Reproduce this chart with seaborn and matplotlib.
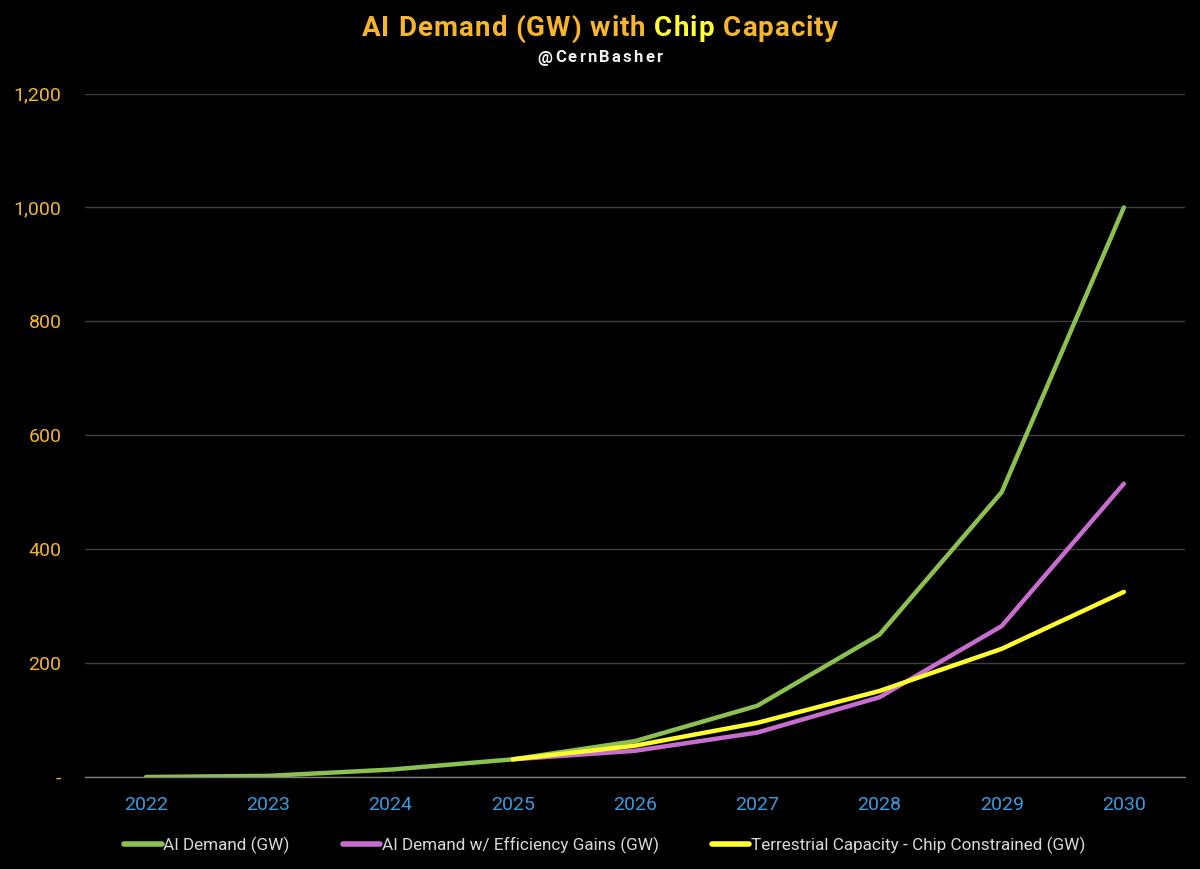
import numpy as np
import pandas as pd
import seaborn as sns
import matplotlib.pyplot as plt
from matplotlib.lines import Line2D
from matplotlib.ticker import FuncFormatter, FixedLocator

years = ["2022", "2023", "2024", "2025", "2026", "2027", "2028", "2029", "2030"]
ai_demand = [0, 2, 13, 31, 63, 125, 250, 500, 1000]
ai_eff = [np.nan, np.nan, np.nan, 31, 46, 78, 140, 265, 515]
terrestrial = [np.nan, np.nan, np.nan, 31, 55, 95, 151, 225, 325]
series_names = ["AI Demand (GW)", "AI Demand w/ Efficiency Gains (GW)",
                "Terrestrial Capacity - Chip Constrained (GW)"]
colors = ["#8CC152", "#C86DD0", "#FFFF2E"]

df = pd.DataFrame({"x": np.arange(len(years))})
for name, vals in zip(series_names, [ai_demand, ai_eff, terrestrial]):
    df[name] = vals

sns.set_theme(style="dark")
plt.rcParams['font.family'] = ['Roboto', 'DejaVu Sans']

fig = plt.figure(figsize=(12, 8.69), dpi=100, facecolor="black")
ax = fig.add_axes([85/1200, 1-777/869, 1100/1200, (777-93.5)/869])
ax.set_facecolor("black")

for name, c in zip(series_names, colors):
    sns.lineplot(data=df, x="x", y=name, ax=ax, color=c, linewidth=3.2,
                 solid_capstyle="round", solid_joinstyle="round", legend=False)

ax.set_xlim(-0.5, len(years) - 0.5)
ax.set_ylim(0, 1200)
ax.set_yticks(range(0, 1201, 200))
ax.yaxis.set_major_formatter(FuncFormatter(lambda v, p: "-" if v == 0 else f"{int(v):,}"))
ax.set_xticks(np.arange(len(years)))
ax.set_xticklabels(years)
ax.xaxis.set_minor_locator(FixedLocator(np.arange(-0.5, len(years), 1.0)))
ax.tick_params(axis="x", which="major", length=0, pad=14, labelsize=14, labelcolor="#3A9AE0")
ax.tick_params(axis="x", which="minor", length=10, direction="inout", color="#7f7f7f", width=1)
ax.tick_params(axis="y", length=0, pad=17, labelsize=14, labelcolor="#F2B431")
ax.set_xlabel("")
ax.set_ylabel("")
ax.grid(axis="y", color="#404040", linewidth=1)
ax.grid(axis="x", visible=False)
for s in ["top", "right", "left"]:
    ax.spines[s].set_visible(False)
ax.spines["bottom"].set_color("#7f7f7f")
ax.spines["bottom"].set_linewidth(1)

fig.canvas.draw()
r = fig.canvas.get_renderer()


def tracked_text(parts, y_px, size, tracking_px):
    """Draw centred text char-by-char with letter spacing; parts = [(str, color)]."""
    chars = [(ch, c) for s, c in parts for ch in s]
    objs = []
    widths = []
    for ch, c in chars:
        t = fig.text(0, 1 - y_px/869, ch, color=c, fontsize=size, fontweight="bold",
                     ha="left", va="center")
        if ch == " ":
            t.set_text("\u00a0")
            w = fig.text(0, 0, "a a", fontsize=size, fontweight="bold").get_window_extent(renderer=r).width \
                - fig.text(0, 0, "aa", fontsize=size, fontweight="bold").get_window_extent(renderer=r).width
            fig.texts[-1].remove(); fig.texts[-1].remove()
        else:
            w = t.get_window_extent(renderer=r).width
        objs.append(t)
        widths.append(w)
    total = sum(widths) + tracking_px * (len(chars) - 1)
    x = 600 - total / 2
    for t, w in zip(objs, widths):
        t.set_x(x / 1200)
        x += w + tracking_px


tracked_text([("AI Demand (GW) with ", "#F7B52C"), ("Chip", "#FFFF33"), (" Capacity", "#F7B52C")],
             29, 20, 1.0)
tracked_text([("@CernBasher", "#F0F0F0")], 58, 12, 2.2)

handles = [Line2D([], [], color=c, linewidth=4, solid_capstyle="round") for c in colors]
leg = fig.legend(handles, series_names, loc="center", bbox_to_anchor=(0.504, 1-845/869), ncol=3,
                 frameon=False, handlelength=2.2, handletextpad=0.1,
                 columnspacing=3.1, labelcolor="#D9D9D9",
                 prop={"family": ["Roboto", "DejaVu Sans"], "size": 12.3})

fig.savefig("out.png", dpi=100, facecolor="black")
